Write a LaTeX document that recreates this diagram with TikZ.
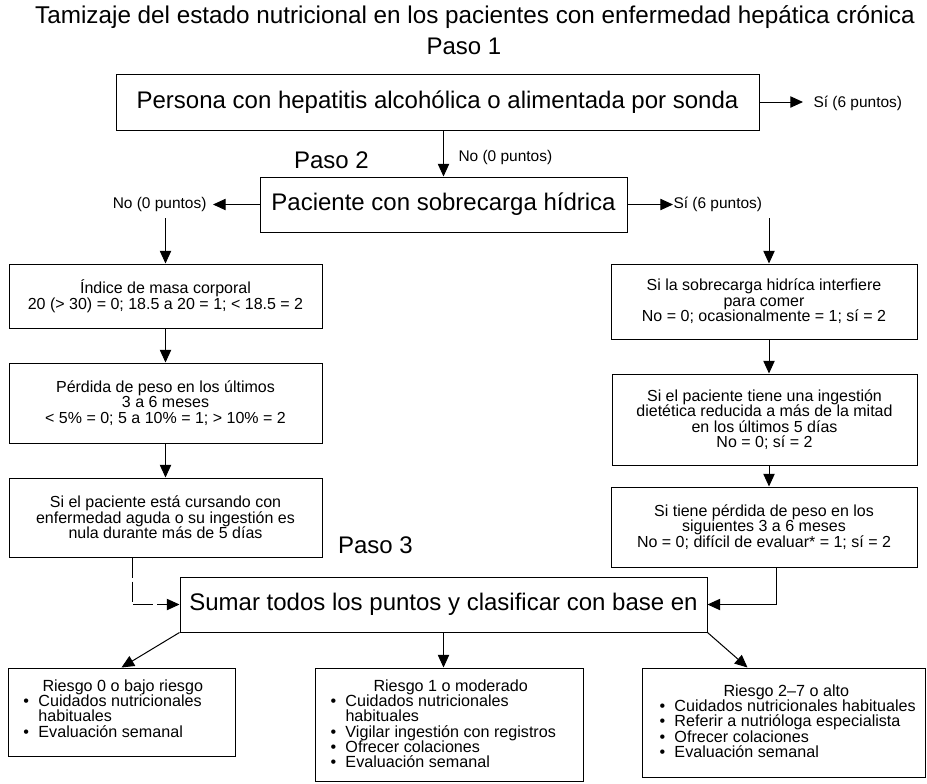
\documentclass[tikz,border=0pt]{standalone}
\usepackage{fontspec}
\setmainfont{Liberation Sans}
\usetikzlibrary{arrows.meta}

\tikzset{every picture/.style={line width=0.75pt}}
\tikzset{
  caja/.style={draw, inner sep=0pt, align=center, font=\fontsize{12}{11.6}\selectfont},
  grande/.style={inner sep=0pt, font=\fontsize{18}{20}\selectfont},
  etiq/.style={inner sep=0pt, font=\fontsize{11.6}{12}\selectfont},
  lista/.style={inner sep=0pt, align=left, anchor=north west, font=\fontsize{12.1}{11.5}\selectfont},
  flecha/.style={-{Triangle[length=9.5pt,width=8.5pt]}}
}
\newcommand{\vin}{\makebox[11.25pt][l]{\textbullet}}
\newcommand{\sig}{\hspace*{11.25pt}}

\begin{document}
\begin{tikzpicture}[x=0.75pt,y=0.75pt,yscale=-1,xscale=1]
\useasboundingbox (0,0) rectangle (927,783);

% Text Node
\draw (475,17) node [grande, font=\fontsize{18.2}{20}\selectfont] (titulo) {Tamizaje del estado nutricional en los pacientes con enfermedad hepática crónica};
% Text Node
\draw (464,46) node [grande] (paso1) {Paso 1};
% Text Node
\draw (331.5,160) node [grande] (paso2) {Paso 2};
% Text Node
\draw (375.5,545) node [grande] (paso3) {Paso 3};

%Shape: Rectangle
\draw (437.5,102) node [caja, grande, minimum width=482.25pt, minimum height=42pt] (persona) {Persona con hepatitis alcohólica o alimentada por sonda};
%Shape: Rectangle
\draw (443.5,204.5) node [caja, grande, minimum width=275.25pt, minimum height=41.25pt] (paciente) {Paciente con sobrecarga hídrica};

%Shape: Rectangle
\draw (165.5,296) node [caja, minimum width=234.75pt, minimum height=48pt] (indice) {Índice de masa corporal\\20 (> 30) = 0; 18.5 a 20 = 1; < 18.5 = 2};
%Shape: Rectangle
\draw (165.5,403) node [caja, minimum width=234.75pt, minimum height=60pt] (perdida) {Pérdida de peso en los últimos\\3 a 6 meses\\< 5\% = 0; 5 a 10\% = 1; > 10\% = 2};
%Shape: Rectangle
\draw (165.5,517.5) node [caja, minimum width=234.75pt, minimum height=59.25pt] (aguda) {Si el paciente está cursando con\\enfermedad aguda o su ingestión es\\nula durante más de 5 días};

%Shape: Rectangle
\draw (764,301.5) node [caja, minimum width=229.5pt, minimum height=56.25pt] (interf) {Si la sobrecarga hidríca interfiere\\para comer\\No = 0; ocasionalmente = 1; sí = 2};
%Shape: Rectangle
\draw (764.5,419.5) node [caja, minimum width=228.75pt, minimum height=68.25pt] (ingest) {Si el paciente tiene una ingestión\\dietética reducida a más de la mitad\\en los últimos 5 días\\No = 0; sí = 2};
%Shape: Rectangle
\draw (764,527) node [caja, minimum width=229.5pt, minimum height=60pt] (perdida2) {Si tiene pérdida de peso en los\\siguientes 3 a 6 meses\\No = 0; difícil de evaluar* = 1; sí = 2};

%Shape: Rectangle
\draw (443.5,604.5) node [caja, grande, minimum width=395.25pt, minimum height=41.25pt] (sumar) {Sumar todos los puntos y clasificar con base en};

%Shape: Rectangle
\draw (121.5,712) node [caja, minimum width=170.25pt, minimum height=66pt] (bajo) {};
%Shape: Rectangle
\draw (449,724.5) node [caja, minimum width=201pt, minimum height=84.75pt] (moderado) {};
%Shape: Rectangle
\draw (783.5,722.5) node [caja, minimum width=212.25pt, minimum height=81.75pt] (alto) {};

% Text Node
\draw (23,679) node [lista] (listabajo) {\hspace*{14.25pt}Riesgo 0 o bajo riesgo\\\vin Cuidados nutricionales\\\sig habituales\\\vin Evaluación semanal};
% Text Node
\draw (330,679) node [lista] (listamod) {\hspace*{32.25pt}Riesgo 1 o moderado\\\vin Cuidados nutricionales\\\sig habituales\\\vin Vigilar ingestión con registros\\\vin Ofrecer colaciones\\\vin Evaluación semanal};
% Text Node
\draw (659,684) node [lista] (listaalto) {\hspace*{48pt}Riesgo 2–7 o alto\\\vin Cuidados nutricionales habituales\\\vin Referir a nutrióloga especialista\\\vin Ofrecer colaciones\\\vin Evaluación semanal};

% Text Node
\draw (458,157) node [etiq, anchor=west] (no1) {No (0 puntos)};
% Text Node
\draw (813,103) node [etiq, anchor=west] (si1) {Sí (6 puntos)};
% Text Node
\draw (207,204) node [etiq, anchor=east] (no2) {No (0 puntos)};
% Text Node
\draw (673,204) node [etiq, anchor=west] (si2) {Sí (6 puntos)};

\coordinate (ejeder) at (769,0);

%Straight Lines
\draw [flecha] (paciente.north |- persona.south) -- (paciente.north);
%Straight Lines
\draw [flecha, shorten >=7.5pt] (persona.east) -- (persona.east -| si1.west);
%Straight Lines
\draw [flecha, shorten >=4.5pt] (paciente.west) -- (paciente.west -| no2.east);
%Straight Lines
\draw [flecha] (paciente.east) -- (paciente.east -| si2.west);
%Straight Lines
\draw [flecha, shorten <=5pt] (indice.north |- no2.south) -- (indice.north);
%Straight Lines
\draw [flecha, shorten <=5pt] (ejeder |- si2.south) -- (ejeder |- interf.north);
%Straight Lines
\draw [flecha] (indice) -- (perdida);
%Straight Lines
\draw [flecha] (perdida) -- (aguda);
%Straight Lines
\draw [flecha] (ejeder |- interf.south) -- (ejeder |- ingest.north);
%Straight Lines
\draw [flecha] (ejeder |- ingest.south) -- (ejeder |- perdida2.north);
%Straight Lines
\draw [flecha, dash pattern={on 15pt off 3pt}] ([xshift=-25pt]aguda.south) |- (sumar.west);
%Straight Lines
\draw [flecha] ([xshift=9pt]perdida2.south) |- (sumar.east);
%Straight Lines
\draw [flecha] (sumar.south west) -- (bajo.north);
%Straight Lines
\draw [flecha] (sumar.south) -- (sumar.south |- moderado.north);
%Straight Lines
\draw [flecha] (sumar.south east) -- ([xshift=-27pt]alto.north);

\end{tikzpicture}
\end{document}
